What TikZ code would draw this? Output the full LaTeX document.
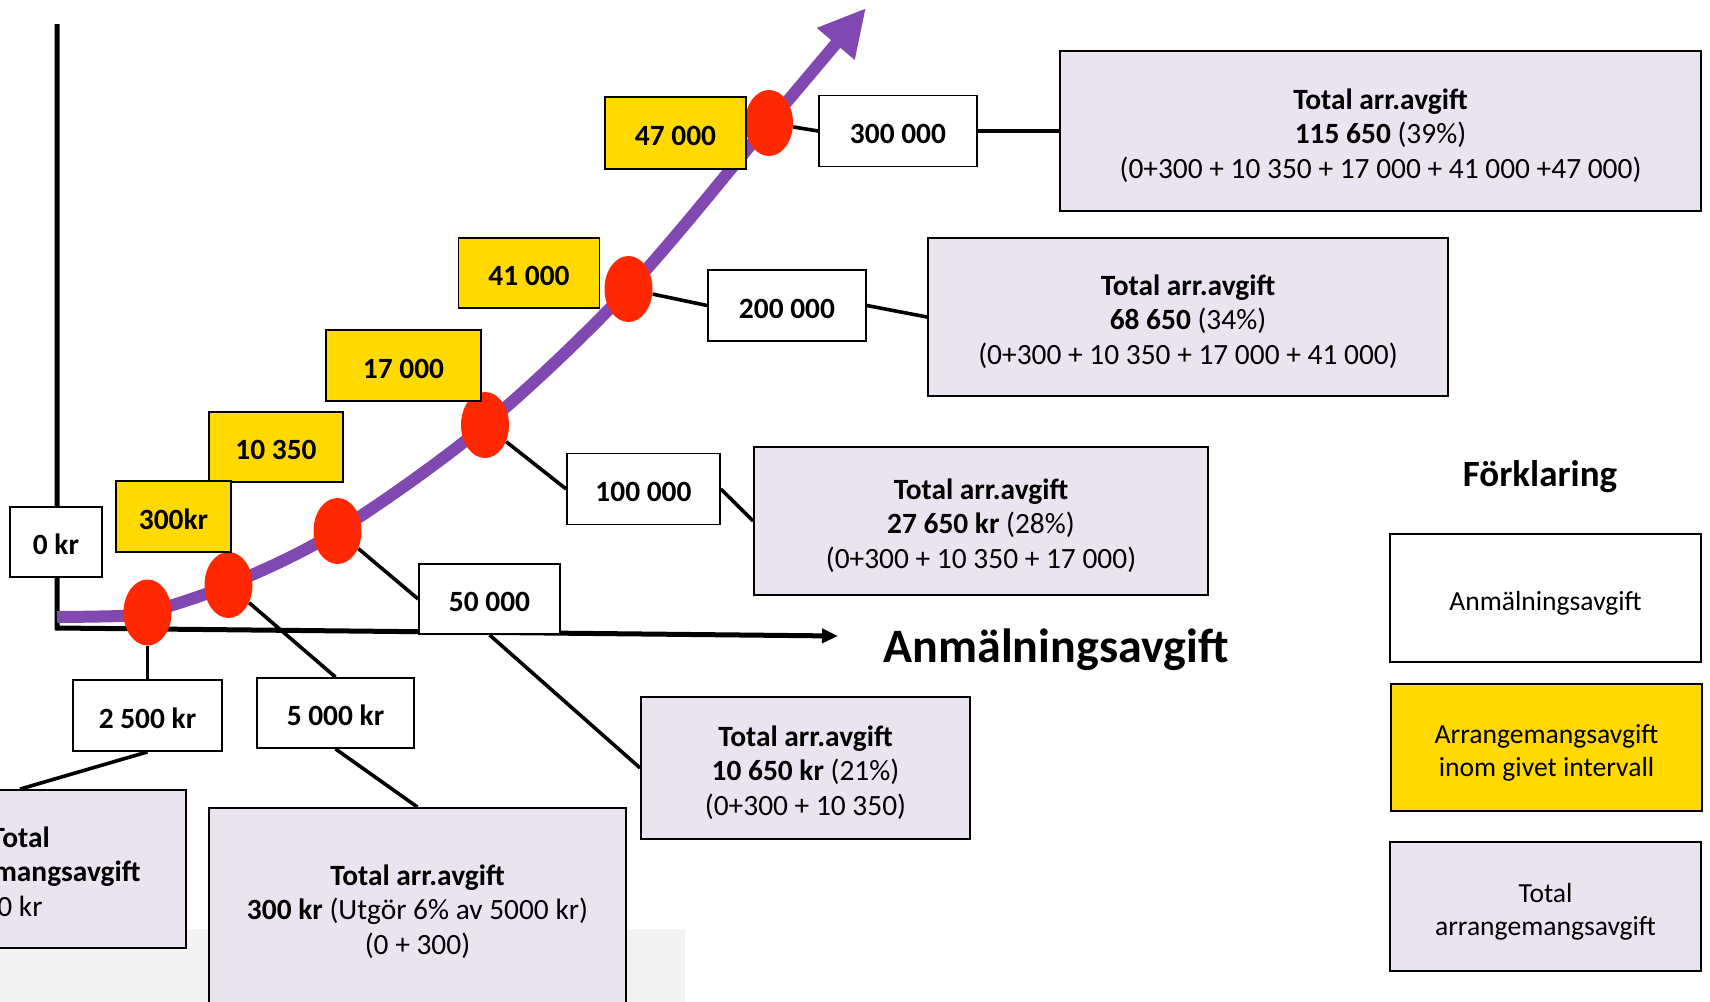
\documentclass[tikz,border=0pt]{standalone}
\usepackage{fontspec}
\setmainfont{Carlito}
\usetikzlibrary{shapes.geometric,arrows.meta}
\pgfdeclarelayer{bg}
\pgfsetlayers{bg,main}
\definecolor{yel}{RGB}{255,217,0}
\definecolor{lav}{RGB}{233,228,240}
\definecolor{dotred}{RGB}{255,40,0}
\definecolor{curvepurple}{RGB}{128,72,176}
\definecolor{greybg}{RGB}{243,243,243}
\newcommand{\boxtext}[1]{\raisebox{-3pt}[\height][\depth]{\begin{tabular}{@{}c@{}}#1\end{tabular}}}
\begin{document}
\begin{tikzpicture}[x=0.5pt,y=-0.5pt,
  box/.style={draw=black, line width=0.9pt, rectangle, inner sep=0pt,
    font=\fontsize{14.7pt}{17.2pt}\selectfont},
  ybox/.style={box, fill=yel, font=\fontsize{14.7pt}{17.2pt}\selectfont\bfseries},
  wbox/.style={box, fill=white, font=\fontsize{14.7pt}{17.2pt}\selectfont\bfseries},
  tbox/.style={box, fill=lav},
  lbox/.style={box, font=\fontsize{13.8pt}{16.4pt}\selectfont},
  dot/.style={ellipse, fill=dotred, draw=none, minimum width=24pt, minimum height=33pt, inner sep=0pt},
  conn/.style={draw=black, line width=1.8pt},
  axis/.style={draw=black, line width=2.5pt},
]
\useasboundingbox (0,0) rectangle (1710,1002);
\clip (0,0) rectangle (1710,1002);

% dots
\node[dot] (d1) at (147.5,612.5) {};
\node[dot] (d2) at (228.5,585) {};
\node[dot] (d3) at (337.5,531) {};
\node[dot] (d4) at (485,425) {};
\node[dot] (d5) at (628.5,289) {};
\node[dot] (d6) at (769,123) {};

% yellow boxes
\node[ybox, minimum width=70.5pt, minimum height=36pt] (y47) at (675.5,133) {\boxtext{47 000}};
\node[ybox, minimum width=70.5pt, minimum height=35pt] (y41) at (529,273) {\boxtext{41 000}};
\node[ybox, minimum width=77.5pt, minimum height=35.5pt] (y17) at (403.5,365.5) {\boxtext{17 000}};
\node[ybox, minimum width=67pt, minimum height=35pt] (y10) at (276,447) {\boxtext{10 350}};
\node[ybox, minimum width=57.5pt, minimum height=35.5pt] (y300) at (173.5,516.5) {\boxtext{300kr}};

% white boxes
\node[wbox, minimum width=46pt, minimum height=35pt] (w0) at (56,542) {\boxtext{0 kr}};
\node[wbox, minimum width=79pt, minimum height=35.5pt] (w300k) at (898,131) {\boxtext{300 000}};
\node[wbox, minimum width=79pt, minimum height=35.5pt] (w200k) at (787,305.5) {\boxtext{200 000}};
\node[wbox, minimum width=76.5pt, minimum height=35.5pt] (w100k) at (643.5,489) {\boxtext{100 000}};
\node[wbox, minimum width=70.5pt, minimum height=35pt] (w50k) at (489.5,599) {\boxtext{50 000}};
\node[wbox, minimum width=74.5pt, minimum height=35.5pt] (w2500) at (147.5,715.5) {\boxtext{2 500 kr}};
\node[wbox, minimum width=78.5pt, minimum height=35pt] (w5000) at (335.5,713) {\boxtext{5 000 kr}};

% total boxes
\node[tbox, minimum width=320.5pt, minimum height=80pt] (t115) at (1380.5,131)
  {\boxtext{\textbf{Total arr.avgift}\\\textbf{115 650} (39\%)\\(0+300 + 10 350 + 17 000 + 41 000 +47 000)}};
\node[tbox, minimum width=260pt, minimum height=79pt] (t68) at (1188,317)
  {\boxtext{\textbf{Total arr.avgift}\\\textbf{68 650} (34\%)\\(0+300 + 10 350 + 17 000 + 41 000)}};
\node[tbox, minimum width=227pt, minimum height=74pt] (t27) at (981,521)
  {\boxtext{\textbf{Total arr.avgift}\\\textbf{27 650 kr} (28\%)\\(0+300 + 10 350 + 17 000)}};
\node[tbox, minimum width=164.5pt, minimum height=71pt] (t10) at (805.5,768)
  {\boxtext{\textbf{Total arr.avgift}\\\textbf{10 650 kr} (21\%)\\(0+300 + 10 350)}};
\node[tbox, minimum width=208.5pt, minimum height=99pt] (t300) at (417.5,907)
  {\boxtext{\textbf{Total arr.avgift}\\\textbf{300 kr} (Utgör 6\% av 5000 kr)\\(0 + 300)}};
\node[tbox, minimum width=166pt, minimum height=79pt] (t0) at (20,869)
  {\boxtext{\textbf{Total}\\\textbf{arrangemangsavgift}\\0 kr}};

% axis label
\node[font=\fontsize{24pt}{28pt}\selectfont\bfseries] (xlab) at (1056,650) {Anmälningsavgift};

% legend
\node[font=\fontsize{18.5pt}{22pt}\selectfont\bfseries] (leg) at (1540,477) {Förklaring};
\node[lbox, fill=white, minimum width=155.5pt, minimum height=64pt] (L1) at (1545.5,598) {\boxtext{Anmälningsavgift}};
\node[lbox, fill=yel, minimum width=155.5pt, minimum height=63.5pt] (L2) at (1546.5,747.5) {\boxtext{Arrangemangsavgift\\inom givet intervall}};
\node[lbox, fill=lav, minimum width=155.5pt, minimum height=64.5pt] (L3) at (1545.5,906.5) {\boxtext{Total\\arrangemangsavgift}};

\begin{pgfonlayer}{bg}
  \fill[white] (0,0) rectangle (1710,1002);
  \fill[greybg] (0,929) rectangle (685,1010);
  \draw[axis, -{Triangle[length=8pt,width=7pt]}] (57,24) -- (57,628) -- (838,636);
  \draw[curvepurple, line width=6pt, -{Triangle[length=23.5pt,width=23pt]}]
    plot[smooth, tension=0.55] coordinates {(57,617) (118,616) (147.5,612.5) (228.5,585) (337.5,531) (485,425) (628.5,289) (769,123) (866,8)};
  \draw[conn] (d1) -- (w2500.north);
  \draw[conn] (w2500.south) -- (t0.north);
  \draw[conn] (d2) -- (w5000.north);
  \draw[conn] (w5000.south) -- (t300.north);
  \draw[conn] (d3) -- (w50k.west);
  \draw[conn] (w50k.south) -- (t10.west);
  \draw[conn] (d4) -- (w100k.west);
  \draw[conn] (w100k.east) -- (t27.west);
  \draw[conn] (d5) -- (w200k.west);
  \draw[conn] (w200k.east) -- (t68.west);
  \draw[conn] (d6) -- (w300k.west);
  \draw[conn] (w300k.east) -- (t115.west);
\end{pgfonlayer}
\end{tikzpicture}
\end{document}
